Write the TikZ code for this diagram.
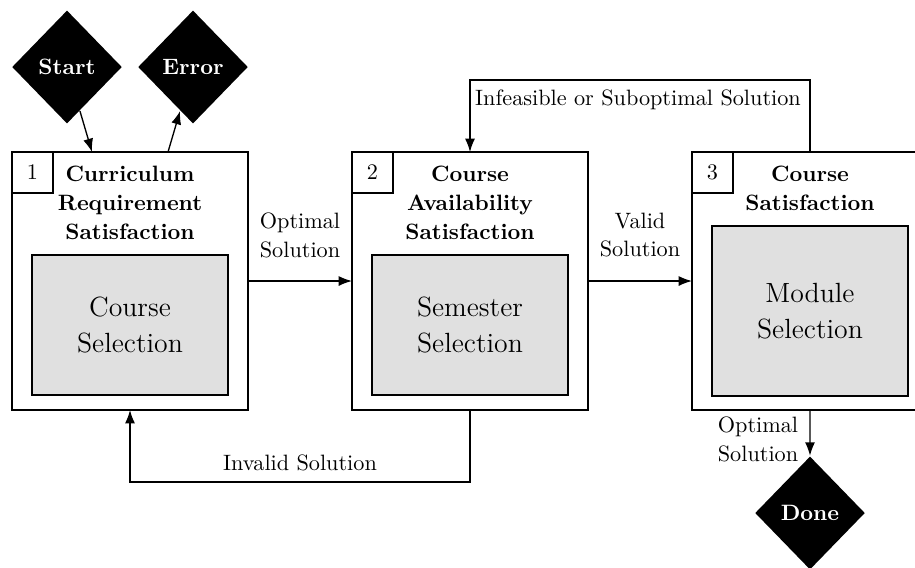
\documentclass[tikz,border=0pt]{standalone}
\usetikzlibrary{shapes.geometric,arrows.meta,calc}
\begin{document}
\begin{tikzpicture}[x=0.45pt,y=-0.45pt, line width=0.6pt,
  stage/.style={draw, fill=white, minimum width=106.2pt, minimum height=116.1pt, anchor=north west, inner sep=0pt, outer sep=0pt},
  numbox/.style={draw, minimum width=18.45pt, minimum height=18.45pt, anchor=north west, inner sep=0pt, outer sep=0pt},
  title/.style={font=\fontsize{10}{13}\selectfont\bfseries, align=center, inner sep=0pt},
  innerbox/.style={draw, fill=black!12, minimum width=88.2pt, inner sep=0pt, outer sep=0pt, align=center, font=\fontsize{12.5}{16.2}\selectfont},
  term/.style={diamond, aspect=1, fill=black, text=white, font=\bfseries, minimum width=49.5pt, minimum height=51pt, inner sep=0pt},
  lbl/.style={align=center, font=\fontsize{10}{13}\selectfont, inner sep=0pt},
  arr/.style={-{Latex[length=6pt,width=4.5pt]}}]
\useasboundingbox (0,0) rectangle (915,567);
\clip (0,0) rectangle (915,567);

% stages
\node[stage] (b1) at (12,152) {};
\node[stage] (b2) at (352,152) {};
\node[stage] (b3) at (692,152) {};
\node[numbox] (n1) at (12,152) {1};
\node[numbox] (n2) at (352,152) {2};
\node[numbox] (n3) at (692,152) {3};
\node[title] (t1) at (130,202.5) {Curriculum\\Requirement\\Satisfaction};
\node[title] (t2) at (470,202.5) {Course\\Availability\\Satisfaction};
\node[title] (t3) at (810,188) {Course\\Satisfaction};
\node[innerbox, minimum height=63pt] (i1) at (130,325) {Course\\Selection};
\node[innerbox, minimum height=63pt] (i2) at (470,325) {Semester\\Selection};
\node[innerbox, minimum height=76.5pt] (i3) at (810,311) {Module\\Selection};

% terminals
\node[term] (start) at (67,67) {Start};
\node[term] (error) at (193,67) {Error};
\node[term] (done) at (810,513) {Done};

% connectors
\draw[arr] (start) -- ($(b1.north west)+(80,0)$);
\draw[arr] ($(b1.north west)+(156,0)$) -- (error);
\draw[arr] (b1.east) -- (b2.west);
\node[lbl] (l1) at (300,235) {Optimal\\Solution};
\draw[arr] (b2.east) -- (b3.west);
\node[lbl] (l2) at (640,235) {Valid\\Solution};
\draw[arr] (b2.south) -- ++(0,72) -| (b1.south);
\node[lbl] (l3) at (300,463) {Invalid Solution};
\draw[arr] (b3.north) -- ++(0,-72) -| (b2.north);
\node[lbl] (l4) at (638,100) {Infeasible or Suboptimal Solution};
\draw[arr] (b3.south) -- (done);
\node[lbl] (l5) at (758,439) {Optimal\\Solution};
\end{tikzpicture}
\end{document}
